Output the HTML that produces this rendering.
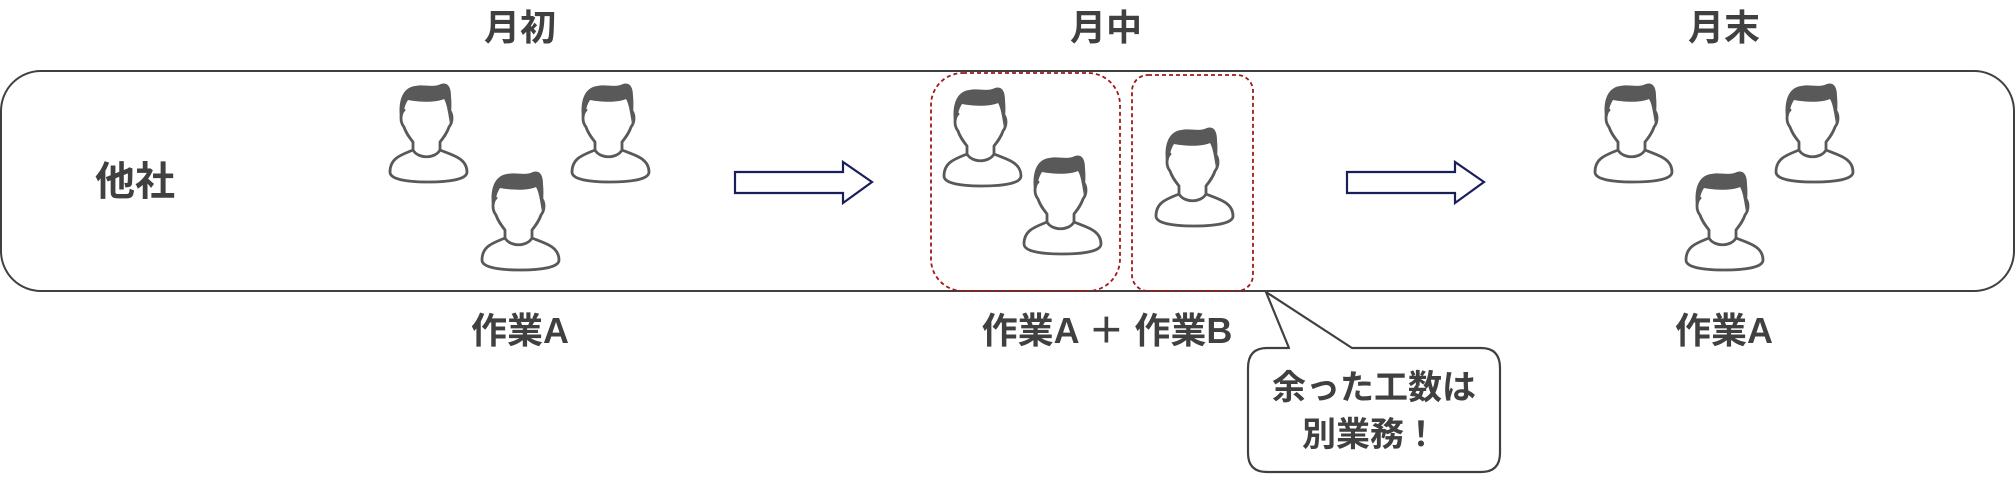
<!DOCTYPE html>
<html><head><meta charset="utf-8"><style>
html,body{margin:0;padding:0;background:#fff;}
svg text{font-family:"Liberation Sans","Noto Sans CJK JP",sans-serif;font-weight:bold;fill:#404040;}
</style></head><body>
<svg width="2016" height="474" viewBox="0 0 2016 474" xmlns="http://www.w3.org/2000/svg">
<defs>
<g id="p">
<path d="M16,42 C12,22 16,6 30,4 C40,2 48,6 56,2 C62,0 66,4 66,14 C67,24 66,34 65,42 C63,30 62,22 59,17 C50,21 34,20 23,18 C19,24 18,32 16,42 Z" fill="#595959"/>
<g fill="none" stroke="#595959" stroke-width="2.8" stroke-linecap="round" stroke-linejoin="round">
<path d="M19,28 C15,32 15,40 19,45 C21,51 24,55 28,60 L28,68 C33,77 50,77 55,68 L55,60 C59,55 62,51 64,45 C68,40 68,32 64,28"/>
<path d="M28,68 C16,73 5,76 5,90 C5,97 20,100 43,100 C66,100 82,97 82,90 C82,76 67,73 55,68"/>
</g>
</g>
</defs>
<rect x="1" y="71" width="2013" height="220" rx="40" ry="40" fill="none" stroke="#404040" stroke-width="2"/>
<text x="520" y="40" font-size="36" text-anchor="middle">月初</text>
<text x="1106" y="40" font-size="36" text-anchor="middle">月中</text>
<text x="1724" y="40" font-size="36" text-anchor="middle">月末</text>
<text x="135" y="195" font-size="40" text-anchor="middle">他社</text>
<text x="520" y="343" font-size="36" text-anchor="middle">作業A</text>
<text x="1107" y="343" font-size="36" text-anchor="middle">作業A ＋ 作業B</text>
<text x="1724" y="343" font-size="36" text-anchor="middle">作業A</text>
<rect x="931" y="73" width="189" height="218" rx="32" fill="none" stroke="#a01818" stroke-width="1.8" stroke-dasharray="4,3"/>
<rect x="1132" y="75" width="121" height="216" rx="16" fill="none" stroke="#a01818" stroke-width="1.8" stroke-dasharray="4,3"/>
<g fill="#fff" stroke="#1a1f5a" stroke-width="2.2" stroke-linejoin="miter">
<path d="M735,172 L843,172 L843,162 L872,182 L843,203 L843,193 L735,193 Z"/>
<path d="M1347,172 L1455,172 L1455,162 L1484,182 L1455,203 L1455,193 L1347,193 Z"/>
</g>
<use href="#p" x="385" y="82"/>
<use href="#p" x="567" y="82"/>
<use href="#p" x="477" y="170"/>
<use href="#p" x="939" y="86"/>
<use href="#p" x="1019" y="154"/>
<use href="#p" x="1151" y="126"/>
<use href="#p" x="1590" y="82"/>
<use href="#p" x="1771" y="82"/>
<use href="#p" x="1681" y="170"/>
<path d="M1289,348 L1267,348 Q1248,348 1248,368 L1248,453 Q1248,472 1267,472 L1481,472 Q1500,472 1500,453 L1500,368 Q1500,348 1481,348 L1352,348 L1266,292 Z" fill="#fff" stroke="#404040" stroke-width="2.2" stroke-linejoin="round"/>
<text x="1374" y="399" font-size="34" text-anchor="middle">余った工数は</text>
<text x="1370" y="446" font-size="34" text-anchor="middle">別業務！</text>
</svg>
</body></html>
